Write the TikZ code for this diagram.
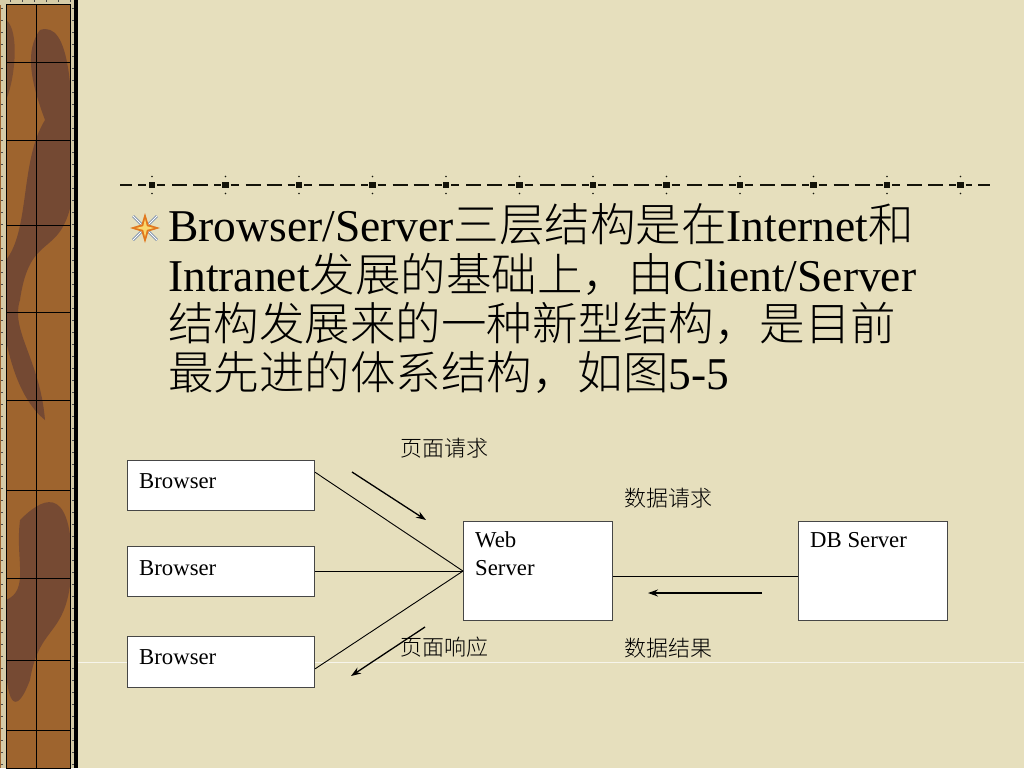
\documentclass[tikz,border=0pt]{standalone}
\usepackage{fontspec}
\setmainfont{Liberation Serif}
\newfontfamily\cjk{Noto Sans CJK SC Light}
\usetikzlibrary{arrows.meta,calc}
\definecolor{bgc}{RGB}{230,223,189}
\definecolor{stripc}{RGB}{158,100,46}
\definecolor{blobc}{RGB}{102,64,54}
\definecolor{framec}{RGB}{214,204,168}
\definecolor{inkc}{RGB}{20,20,10}
\definecolor{boxline}{RGB}{70,70,70}
\definecolor{armc}{RGB}{120,140,170}
\definecolor{starc}{RGB}{225,120,30}
\definecolor{stary}{RGB}{250,215,110}
\tikzset{
  box/.style={draw=boxline, fill=white, line width=1.1pt, rectangle, inner sep=0pt, anchor=north west},
  lbl/.style={inner sep=0pt, anchor=base west, text=black, font=\fontsize{22.75}{26}\selectfont},
  cjklbl/.style={inner sep=0pt, anchor=base west, text=black, font=\cjk\fontsize{22}{26}\selectfont},
  body/.style={inner sep=0pt, anchor=base west, text=black, font=\fontsize{45.5}{49}\selectfont},
  conn/.style={draw=black, line width=0.9pt},
  flow/.style={draw=black, line width=1.3pt, -{Stealth[length=10pt,width=7pt]}},
  dashseg/.style={draw=inkc, line width=1.6pt},
}
\begin{document}
\begin{tikzpicture}[x=1pt,y=-1pt]
\useasboundingbox (0,0) rectangle (1024,768);
\fill[bgc] (0,0) rectangle (1024,768);
% faint background streak
\draw[white, opacity=0.7, line width=0.8pt] (78,662) -- (1024,662);
% left strip
\fill[stripc] (0,0) rectangle (77,768);
\begin{scope}
\clip (6,5) rectangle (71,768);
\fill[blobc, opacity=0.75] (40,30) .. controls (70,20) and (75,90) .. (72,200) .. controls (60,260) and (30,230) .. (20,300) .. controls (10,330) and (40,360) .. (45,420) .. controls (20,400) and (10,360) .. (6,340) -- (6,260) .. controls (30,230) and (20,160) .. (45,120) .. controls (30,80) and (25,50) .. (40,30) -- cycle;
\fill[blobc, opacity=0.7] (20,520) .. controls (40,500) and (70,480) .. (72,560) .. controls (70,640) and (40,620) .. (30,680) .. controls (15,720) and (6,700) .. (6,660) -- (6,600) .. controls (30,590) and (15,560) .. (20,520) -- cycle;
\fill[blobc, opacity=0.6] (6,20) .. controls (20,30) and (15,80) .. (6,100) -- cycle;
\end{scope}
\fill[framec] (1,0) rectangle (6,768);
\fill[framec] (70,0) rectangle (74,768);
\fill[framec] (0,0) rectangle (77,5);
\foreach \yy in {8,20,...,768} {
  \draw[black!70, line width=0.8pt] (1,\yy) -- (3,\yy);
  \draw[black!70, line width=0.8pt] (72,\yy) -- (74,\yy);
}
\foreach \xx in {10,22,...,70} { \draw[black!70, line width=0.8pt] (\xx,0) -- (\xx,2); }
\draw[black, line width=1pt] (6,5) rectangle (70,768);
\fill[black] (74,0) rectangle (77.5,768);
\draw[black, line width=1pt] (36,5) -- (36,768);
\foreach \yy in {62,140,225,312,400,490,578,660,730} { \draw[black, line width=1pt] (6,\yy) -- (70,\yy); }
% dashed rule
\draw[dashseg] (120,185) -- (132,185);
\draw[dashseg] (138,185) -- (146,185);
\foreach \i in {0,...,11} {
  \pgfmathsetmacro{\s}{152+73.5*\i}
  \fill[inkc] (\s-3.2,181.8) rectangle (\s+3.2,188.2);
  \fill[inkc] (\s,176.5) circle (0.9);
  \fill[inkc] (\s,193.5) circle (0.9);
}
\foreach \i in {0,...,10} {
  \pgfmathsetmacro{\s}{152+73.5*\i}
  \draw[dashseg] (\s+5,185) -- (\s+13,185);
  \draw[dashseg] (\s+20,185) -- (\s+35,185);
  \draw[dashseg] (\s+41,185) -- (\s+56,185);
  \draw[dashseg] (\s+62,185) -- (\s+69,185);
}
\draw[dashseg] (965.5,185) -- (972,185);
\draw[dashseg] (978,185) -- (990,185);
% bullet icon
\begin{scope}[shift={(145,228)}]
  \draw[armc, line width=2.6pt] (-12,-12) -- (12,12);
  \draw[armc, line width=2.6pt] (-12,12) -- (12,-12);
  \draw[white, line width=0.8pt] (-12,-12) -- (12,12);
  \draw[white, line width=0.8pt] (-12,12) -- (12,-12);
  \fill[starc] (0,-15) -- (3.5,-3.5) -- (15,0) -- (3.5,3.5) -- (0,15) -- (-3.5,3.5) -- (-15,0) -- (-3.5,-3.5) -- cycle;
  \fill[stary] (0,-9) -- (1.8,-1.8) -- (9,0) -- (1.8,1.8) -- (0,9) -- (-1.8,1.8) -- (-9,0) -- (-1.8,-1.8) -- cycle;
\end{scope}
% body text
\node[body] (t1) at (168,241) {Browser/Server{\cjk 三层结构是在}Internet{\cjk 和}};
\node[body] (t2) at (168,291) {Intranet{\cjk 发展的基础上，由}Client/Server};
\node[body] (t3) at (168,340) {{\cjk 结构发展来的一种新型结构，是目前}};
\node[body] (t4) at (168,389) {{\cjk 最先进的体系结构，如图}5-5};
% diagram boxes
\node[box, minimum width=187pt, minimum height=50pt] (b1) at (127,460) {};
\node[box, minimum width=187pt, minimum height=50pt] (b2) at (127,546) {};
\node[box, minimum width=187pt, minimum height=51pt] (b3) at (127,636) {};
\node[box, minimum width=149pt, minimum height=99pt] (ws) at (463,521) {};
\node[box, minimum width=149pt, minimum height=99pt] (db) at (798,521) {};
\node[lbl] (b1t) at (139,488) {Browser};
\node[lbl] (b2t) at (139,575) {Browser};
\node[lbl] (b3t) at (139,664) {Browser};
\node[lbl] (wst1) at (475,547) {Web};
\node[lbl] (wst2) at (475,575) {Server};
\node[lbl] (dbt) at (810,547) {DB Server};
% connectors
\draw[conn] ($(b1.north east)!0.24!(b1.south east)$) -- (ws.west);
\draw[conn] (b2.east |- ws.west) -- (ws.west);
\draw[conn] ($(b3.north east)!0.63!(b3.south east)$) -- (ws.west);
\draw[conn] ([yshift=-5.5pt]ws.east) -- ([yshift=-5.5pt]db.west);
% flow arrows
\coordinate (a1s) at (352,472);
\coordinate (a1e) at (426,520);
\coordinate (a2s) at (425,627);
\coordinate (a2e) at (351,676);
\coordinate (a3s) at (762,593);
\coordinate (a3e) at (648,593);
\draw[flow] (a1s) -- (a1e);
\draw[flow] (a2s) -- (a2e);
\draw[flow] (a3s) -- (a3e);
% labels
\node[cjklbl] (l1) at (400,456) {页面请求};
\node[cjklbl] (l2) at (624,506) {数据请求};
\node[cjklbl] (l3) at (400,655) {页面响应};
\node[cjklbl] (l4) at (624,656) {数据结果};
\end{tikzpicture}
\end{document}
